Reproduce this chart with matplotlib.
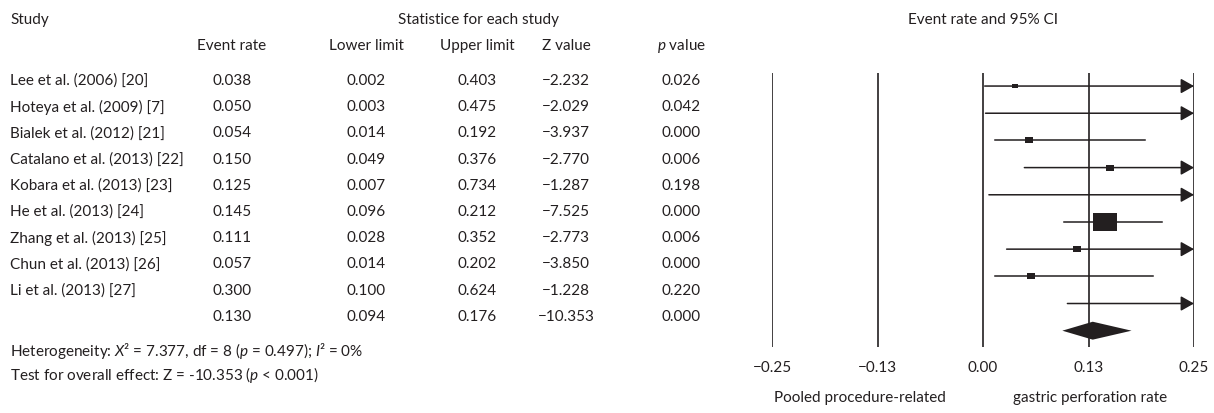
import numpy as np
import matplotlib
matplotlib.use('Agg')
import matplotlib.pyplot as plt

plt.rcParams['font.family'] = ['Lato', 'DejaVu Sans']
plt.rcParams['mathtext.fontset'] = 'custom'
plt.rcParams['mathtext.rm'] = 'Lato'
plt.rcParams['mathtext.it'] = 'Lato:italic'

# data
studies = ['Lee et al. (2006) [20]', 'Hoteya et al. (2009) [7]', 'Bialek et al. (2012) [21]',
           'Catalano et al. (2013) [22]', 'Kobara et al. (2013) [23]', 'He et al. (2013) [24]',
           'Zhang et al. (2013) [25]', 'Chun et al. (2013) [26]', 'Li et al. (2013) [27]']
event_rate = [0.038, 0.050, 0.054, 0.150, 0.125, 0.145, 0.111, 0.057, 0.300]
lower = [0.002, 0.003, 0.014, 0.049, 0.007, 0.096, 0.028, 0.014, 0.100]
upper = [0.403, 0.475, 0.192, 0.376, 0.734, 0.212, 0.352, 0.202, 0.624]
z_value = [-2.232, -2.029, -3.937, -2.770, -1.287, -7.525, -2.773, -3.850, -1.228]
p_value = [0.026, 0.042, 0.000, 0.006, 0.198, 0.000, 0.006, 0.000, 0.220]
weights = [2.5, 0, 6, 6, 0, 40, 5.5, 5.5, 6]  # relative weights (square size)
pooled = [0.130, 0.094, 0.176, -10.353, 0.000]
xticks = [-0.25, -0.125, 0.0, 0.125, 0.25]
xticklabels = ['\u22120.25', '\u22120.13', '0.00', '0.13', '0.25']

W, H = 1214, 413
col = '#231f20'
fs = 11

fig = plt.figure(figsize=(W / 100, H / 100), dpi=100)


def fx(px):
    return px / W


def fy(py):
    return 1 - py / H


def fmt(v):
    return f'{v:.3f}'.replace('-', '\u2212')


# left table
fig.text(fx(10), fy(20), 'Study', fontsize=fs, color=col, va='center')
fig.text(fx(478), fy(20), 'Statistice for each study', fontsize=fs, color=col, va='center', ha='center')
col_x = [232, 366, 477, 566, 681]
headers = ['Event rate', 'Lower limit', 'Upper limit', 'Z value', '$p$ value']
for cx, h in zip(col_x, headers):
    fig.text(fx(cx), fy(46), h, fontsize=fs, color=col, va='center', ha='center')

rows = list(zip(event_rate, lower, upper, z_value, p_value))
for i, name in enumerate(studies):
    ry = 81 + 26.2 * i
    fig.text(fx(10), fy(ry), name, fontsize=fs, color=col, va='center')
    for cx, v in zip(col_x, rows[i]):
        fig.text(fx(cx), fy(ry), fmt(v), fontsize=fs, color=col, va='center', ha='center')
ry = 81 + 26.2 * 9
for cx, v in zip(col_x, pooled):
    fig.text(fx(cx), fy(ry), fmt(v), fontsize=fs, color=col, va='center', ha='center')

fig.text(fx(10), fy(351), 'Heterogeneity: $X$\u00b2 = 7.377, df = 8 ($p$ = 0.497); $I$\u00b2 = 0%',
         fontsize=fs, color=col, va='center')
fig.text(fx(10), fy(375), 'Test for overall effect: Z = -10.353 ($p$ < 0.001)',
         fontsize=fs, color=col, va='center')

# forest plot
ax = fig.add_axes([fx(772), fy(347), (1194 - 772) / W, (347 - 73) / H])
for s in ax.spines.values():
    s.set_visible(False)
ax.set_xlim(-0.25, 0.25)
ax.set_ylim(9.6, -0.48)
ax.set_yticks([])
ax.set_xticks(xticks)
ax.set_xticklabels(xticklabels, fontsize=fs, color=col)
ax.tick_params(axis='x', length=0, pad=10)
for t in xticks:
    ax.axvline(t, color=col, lw=1.2, zorder=1)

rect = [(-1.3, -1), (1.3, -1), (1.3, 1), (-1.3, 1), (-1.3, -1)]
for i in range(len(studies)):
    lo, hi = lower[i], upper[i]
    if hi > 0.25:
        ax.annotate('', xy=(0.25, i), xytext=(lo, i),
                    arrowprops=dict(arrowstyle='-|>,head_length=0.8,head_width=0.45',
                                    color=col, lw=1.1, shrinkA=0, shrinkB=0, mutation_scale=10),
                    zorder=2)
    else:
        ax.plot([lo, hi], [i, i], color=col, lw=1.1, zorder=2)
    if weights[i] > 0:
        ms = 2.63 * np.sqrt(weights[i])
        ax.scatter([event_rate[i]], [i], s=ms ** 2, marker=rect, color=col, zorder=3, linewidths=0)

d = 9
h = 0.33
ax.fill([pooled[1], pooled[0], pooled[2], pooled[0]], [d, d - h, d, d + h], color=col, zorder=3, lw=0)

fig.text(fx(860), fy(398), 'Pooled procedure-related', fontsize=fs, color=col, va='center', ha='center')
fig.text(fx(1090), fy(398), 'gastric perforation rate', fontsize=fs, color=col, va='center', ha='center')
fig.text(fx(983), fy(20), 'Event rate and 95% CI', fontsize=fs, color=col, va='center', ha='center')

fig.savefig('out.png', dpi=100)
